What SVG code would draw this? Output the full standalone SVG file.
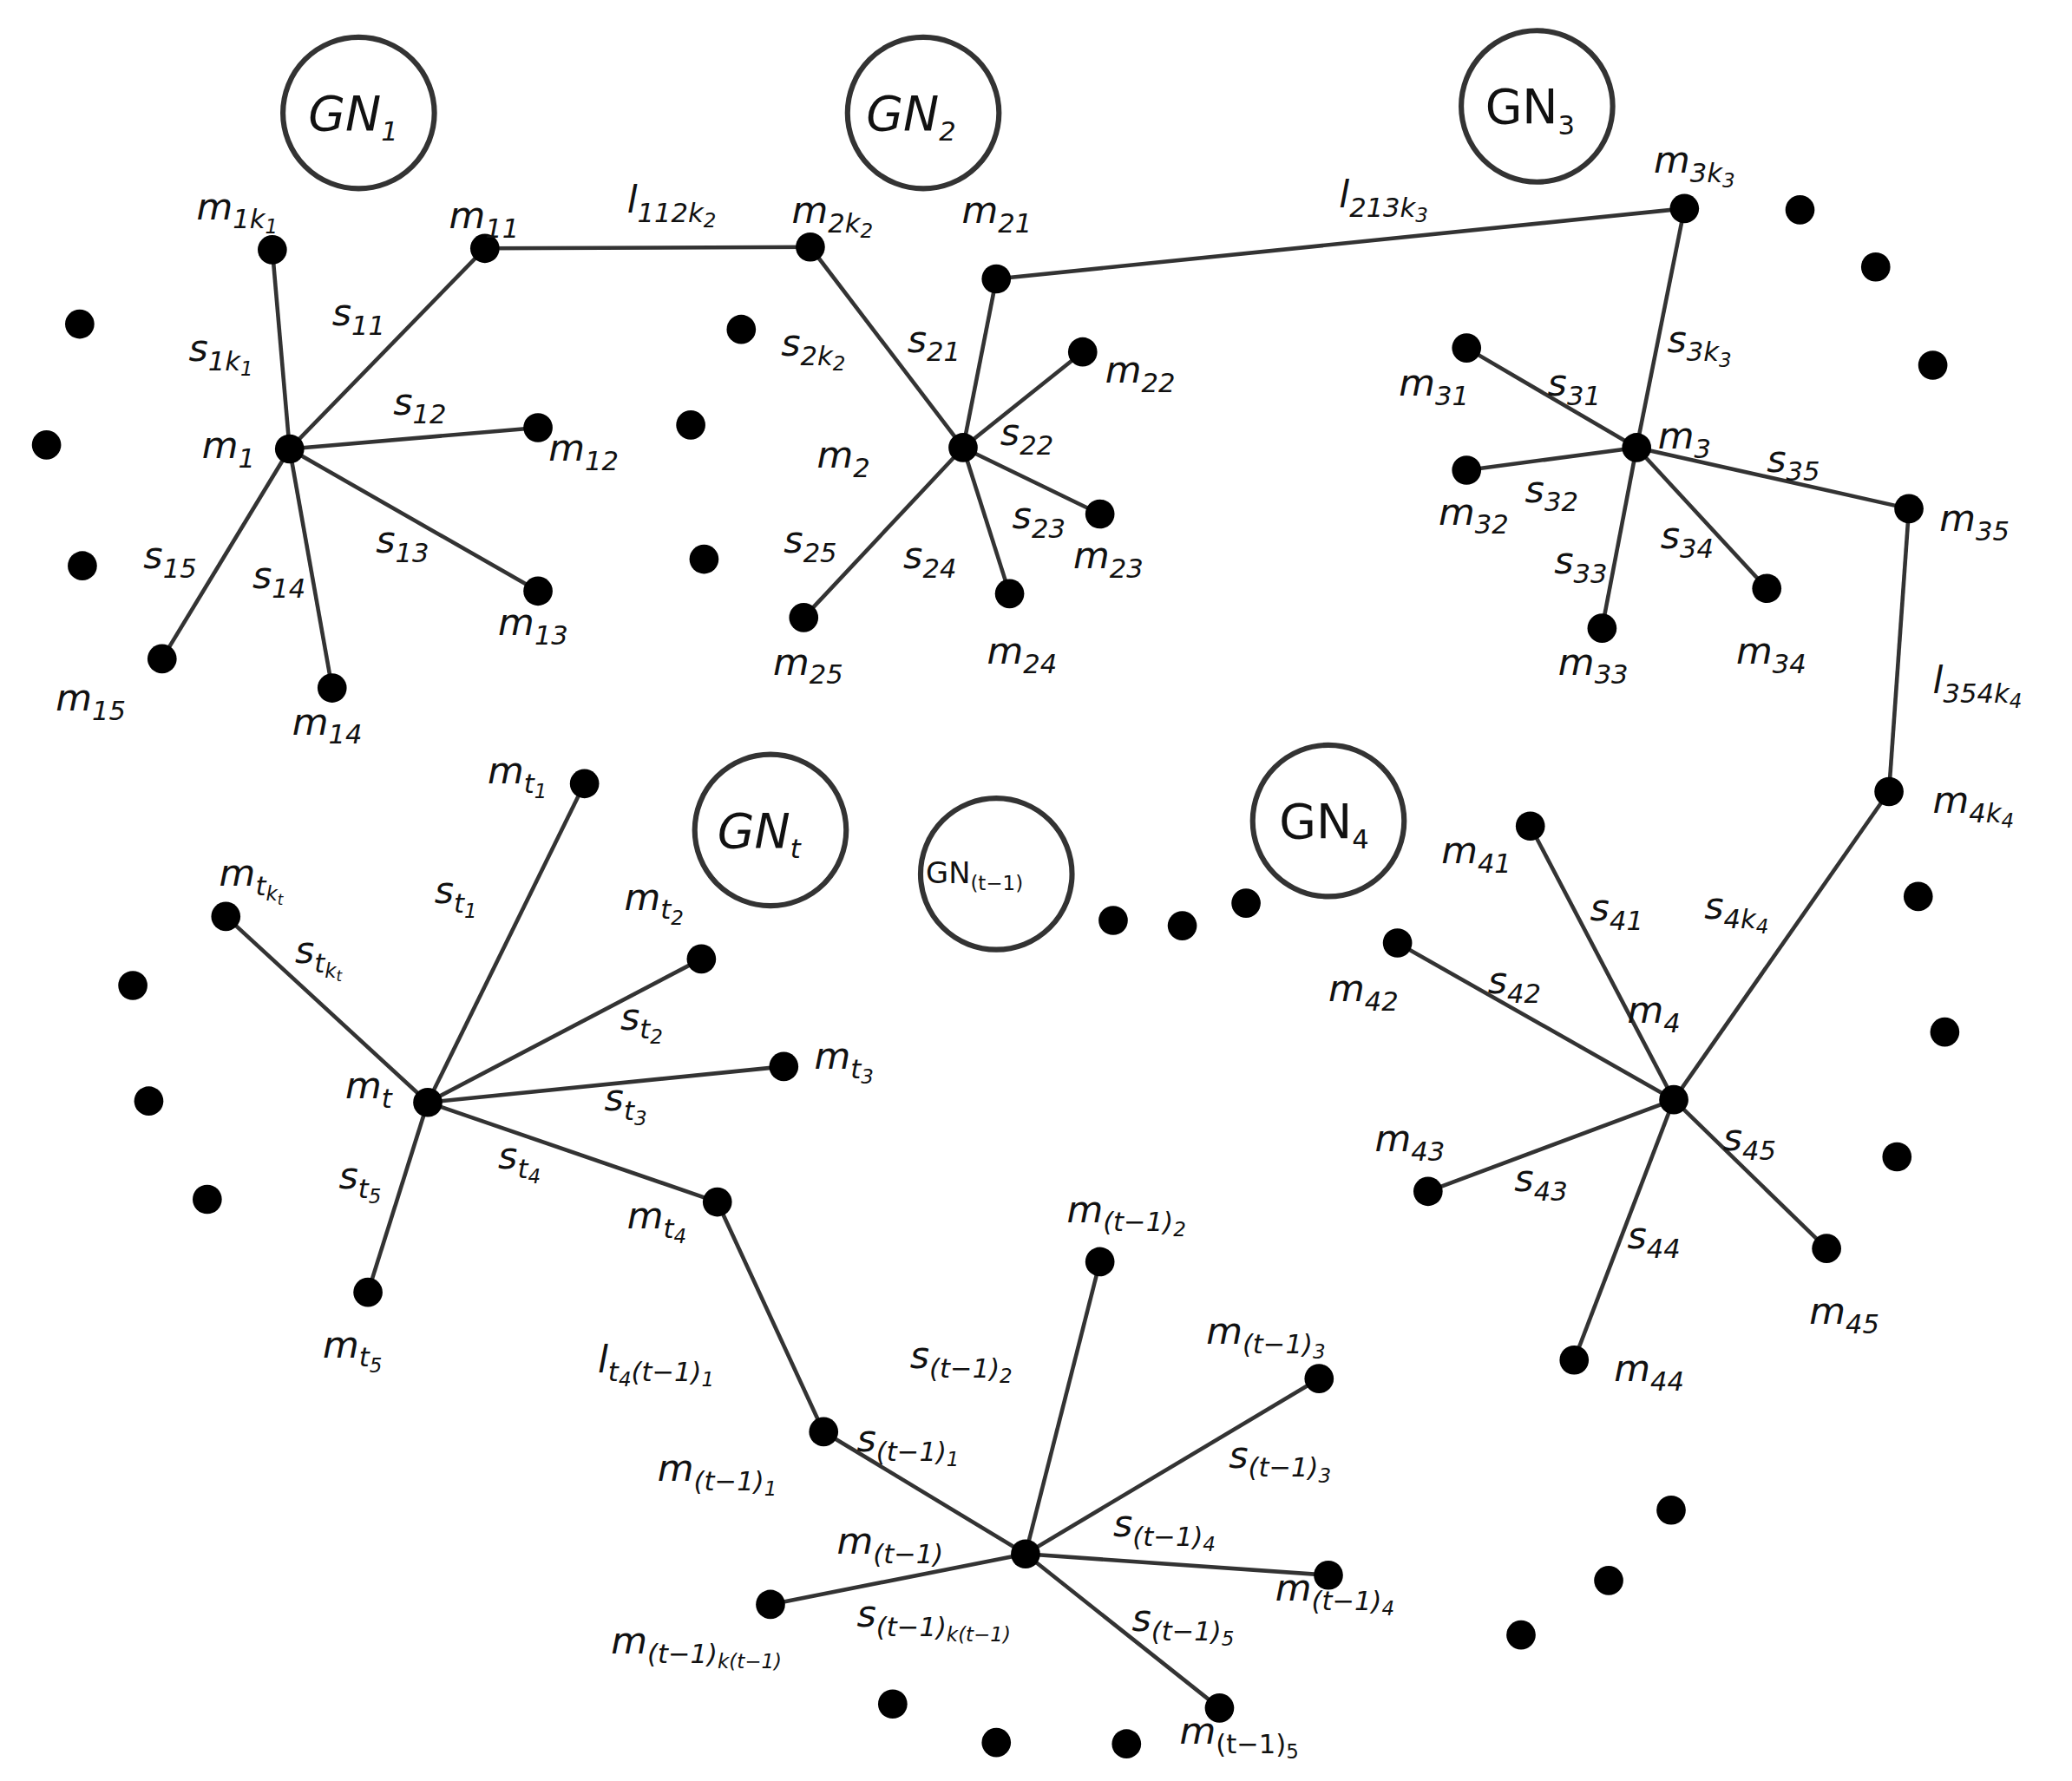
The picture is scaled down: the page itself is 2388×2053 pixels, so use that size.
<svg xmlns="http://www.w3.org/2000/svg" width="2388" height="2053" viewBox="0 0 2388 2053">
<style>
text{font-family:"DejaVu Sans","Liberation Sans",sans-serif;font-style:italic;font-size:28px;fill:#111}
.up{font-style:normal}
.g{font-size:36px}
.sb{font-size:20px}
.ss{font-size:15px}
line{stroke:#333;stroke-width:3}
circle.n{fill:#000}
circle.gn{fill:none;stroke:#333;stroke-width:4}
</style>
<rect width="2388" height="2053" fill="#fff"/>
<g transform="scale(1.531)">
<g id="connectors">
<line x1="365" y1="187" x2="610" y2="186"/><line x1="750" y1="210" x2="1268" y2="157"/>
<line x1="1437" y1="383" x2="1422" y2="596"/><line x1="540" y1="905" x2="620" y2="1078"/>
<line x1="218" y1="338" x2="205" y2="188"/><line x1="218" y1="338" x2="365" y2="187"/><line x1="218" y1="338" x2="405" y2="322"/><line x1="218" y1="338" x2="405" y2="445"/><line x1="218" y1="338" x2="250" y2="518"/><line x1="218" y1="338" x2="122" y2="496"/>
<line x1="725" y1="337" x2="610" y2="186"/><line x1="725" y1="337" x2="750" y2="210"/><line x1="725" y1="337" x2="815" y2="265"/><line x1="725" y1="337" x2="828" y2="387"/><line x1="725" y1="337" x2="760" y2="447"/><line x1="725" y1="337" x2="605" y2="465"/>
<line x1="1232" y1="337" x2="1268" y2="157"/><line x1="1232" y1="337" x2="1104" y2="262"/><line x1="1232" y1="337" x2="1104" y2="354"/><line x1="1232" y1="337" x2="1206" y2="473"/><line x1="1232" y1="337" x2="1330" y2="443"/><line x1="1232" y1="337" x2="1437" y2="383"/>
<line x1="1260" y1="828" x2="1422" y2="596"/><line x1="1260" y1="828" x2="1152" y2="622"/><line x1="1260" y1="828" x2="1052" y2="710"/><line x1="1260" y1="828" x2="1075" y2="897"/><line x1="1260" y1="828" x2="1185" y2="1024"/><line x1="1260" y1="828" x2="1375" y2="940"/>
<line x1="322" y1="830" x2="440" y2="590"/><line x1="322" y1="830" x2="170" y2="690"/><line x1="322" y1="830" x2="528" y2="722"/><line x1="322" y1="830" x2="590" y2="803"/><line x1="322" y1="830" x2="540" y2="905"/><line x1="322" y1="830" x2="277" y2="973"/>
<line x1="772" y1="1170" x2="620" y2="1078"/><line x1="772" y1="1170" x2="828" y2="950"/><line x1="772" y1="1170" x2="993" y2="1038"/><line x1="772" y1="1170" x2="1000" y2="1186"/><line x1="772" y1="1170" x2="918" y2="1286"/><line x1="772" y1="1170" x2="580" y2="1208"/>
</g>
<g id="groups">
<circle class="gn" cx="270" cy="85" r="57"/><text class="g" x="232" y="98">GN<tspan class="sb" dy="8">1</tspan></text>
<circle class="gn" cx="695" cy="85" r="57"/><text class="g" x="652" y="98">GN<tspan class="sb" dy="8">2</tspan></text>
<circle class="gn" cx="1157" cy="80" r="57"/><text class="g up" x="1118" y="93">GN<tspan class="sb" dy="8">3</tspan></text>
<circle class="gn" cx="580" cy="625" r="57"/><text class="g" x="540" y="638">GN<tspan class="sb" dy="8">t</tspan></text>
<circle class="gn" cx="750" cy="658" r="57"/><text class="up" style="font-size:22px" x="697" y="665">GN<tspan class="sb" style="font-size:15px" dy="5">(t−1)</tspan></text>
<circle class="gn" cx="1000" cy="618" r="57"/><text class="g up" x="963" y="631">GN<tspan class="sb" dy="8">4</tspan></text>
</g>
<g id="nodes">
<circle class="n" cx="218" cy="338" r="11"/><circle class="n" cx="205" cy="188" r="11"/><circle class="n" cx="365" cy="187" r="11"/><circle class="n" cx="405" cy="322" r="11"/><circle class="n" cx="405" cy="445" r="11"/><circle class="n" cx="250" cy="518" r="11"/><circle class="n" cx="122" cy="496" r="11"/>
<circle class="n" cx="60" cy="244" r="11"/><circle class="n" cx="35" cy="335" r="11"/><circle class="n" cx="62" cy="426" r="11"/>
<circle class="n" cx="725" cy="337" r="11"/><circle class="n" cx="610" cy="186" r="11"/><circle class="n" cx="750" cy="210" r="11"/><circle class="n" cx="815" cy="265" r="11"/><circle class="n" cx="828" cy="387" r="11"/><circle class="n" cx="760" cy="447" r="11"/><circle class="n" cx="605" cy="465" r="11"/>
<circle class="n" cx="558" cy="248" r="11"/><circle class="n" cx="520" cy="320" r="11"/><circle class="n" cx="530" cy="421" r="11"/>
<circle class="n" cx="1232" cy="337" r="11"/><circle class="n" cx="1268" cy="157" r="11"/><circle class="n" cx="1104" cy="262" r="11"/><circle class="n" cx="1104" cy="354" r="11"/><circle class="n" cx="1206" cy="473" r="11"/><circle class="n" cx="1330" cy="443" r="11"/><circle class="n" cx="1437" cy="383" r="11"/>
<circle class="n" cx="1355" cy="158" r="11"/><circle class="n" cx="1412" cy="201" r="11"/><circle class="n" cx="1455" cy="275" r="11"/>
<circle class="n" cx="1260" cy="828" r="11"/><circle class="n" cx="1422" cy="596" r="11"/><circle class="n" cx="1152" cy="622" r="11"/><circle class="n" cx="1052" cy="710" r="11"/><circle class="n" cx="1075" cy="897" r="11"/><circle class="n" cx="1185" cy="1024" r="11"/><circle class="n" cx="1375" cy="940" r="11"/>
<circle class="n" cx="1444" cy="675" r="11"/><circle class="n" cx="1464" cy="777" r="11"/><circle class="n" cx="1428" cy="871" r="11"/>
<circle class="n" cx="322" cy="830" r="11"/><circle class="n" cx="440" cy="590" r="11"/><circle class="n" cx="170" cy="690" r="11"/><circle class="n" cx="528" cy="722" r="11"/><circle class="n" cx="590" cy="803" r="11"/><circle class="n" cx="540" cy="905" r="11"/><circle class="n" cx="277" cy="973" r="11"/>
<circle class="n" cx="100" cy="742" r="11"/><circle class="n" cx="112" cy="829" r="11"/><circle class="n" cx="156" cy="903" r="11"/>
<circle class="n" cx="772" cy="1170" r="11"/><circle class="n" cx="620" cy="1078" r="11"/><circle class="n" cx="828" cy="950" r="11"/><circle class="n" cx="993" cy="1038" r="11"/><circle class="n" cx="1000" cy="1186" r="11"/><circle class="n" cx="918" cy="1286" r="11"/><circle class="n" cx="580" cy="1208" r="11"/>
<circle class="n" cx="672" cy="1283" r="11"/><circle class="n" cx="750" cy="1312" r="11"/><circle class="n" cx="848" cy="1313" r="11"/><circle class="n" cx="1145" cy="1231" r="11"/><circle class="n" cx="1211" cy="1190" r="11"/><circle class="n" cx="1258" cy="1137" r="11"/>
<circle class="n" cx="838" cy="693" r="11"/><circle class="n" cx="890" cy="697" r="11"/><circle class="n" cx="938" cy="680" r="11"/>
</g>
<g id="labels">
<text x="148" y="165">m<tspan class="sb" dy="7">1k</tspan><tspan class="ss" dy="4">1</tspan></text>
<text x="142" y="272">s<tspan class="sb" dy="7">1k</tspan><tspan class="ss" dy="4">1</tspan></text>
<text x="250" y="245">s<tspan class="sb" dy="7">11</tspan></text>
<text x="338" y="172">m<tspan class="sb" dy="7">11</tspan></text>
<text x="472" y="160">l<tspan class="sb" dy="7">112k</tspan><tspan class="ss" dy="4">2</tspan></text>
<text x="596" y="168">m<tspan class="sb" dy="7">2k</tspan><tspan class="ss" dy="4">2</tspan></text>
<text x="724" y="168">m<tspan class="sb" dy="7">21</tspan></text>
<text x="588" y="268">s<tspan class="sb" dy="7">2k</tspan><tspan class="ss" dy="4">2</tspan></text>
<text x="683" y="265">s<tspan class="sb" dy="7">21</tspan></text>
<text x="832" y="288">m<tspan class="sb" dy="7">22</tspan></text>
<text x="753" y="335">s<tspan class="sb" dy="7">22</tspan></text>
<text x="615" y="352">m<tspan class="sb" dy="7">2</tspan></text>
<text x="762" y="398">s<tspan class="sb" dy="7">23</tspan></text>
<text x="808" y="428">m<tspan class="sb" dy="7">23</tspan></text>
<text x="590" y="416">s<tspan class="sb" dy="7">25</tspan></text>
<text x="680" y="428">s<tspan class="sb" dy="7">24</tspan></text>
<text x="582" y="508">m<tspan class="sb" dy="7">25</tspan></text>
<text x="743" y="500">m<tspan class="sb" dy="7">24</tspan></text>
<text x="152" y="345">m<tspan class="sb" dy="7">1</tspan></text>
<text x="296" y="312">s<tspan class="sb" dy="7">12</tspan></text>
<text x="413" y="347">m<tspan class="sb" dy="7">12</tspan></text>
<text x="283" y="416">s<tspan class="sb" dy="7">13</tspan></text>
<text x="375" y="478">m<tspan class="sb" dy="7">13</tspan></text>
<text x="108" y="428">s<tspan class="sb" dy="7">15</tspan></text>
<text x="190" y="443">s<tspan class="sb" dy="7">14</tspan></text>
<text x="42" y="535">m<tspan class="sb" dy="7">15</tspan></text>
<text x="220" y="553">m<tspan class="sb" dy="7">14</tspan></text>
<text x="1008" y="156">l<tspan class="sb" dy="7">213k</tspan><tspan class="ss" dy="4">3</tspan></text>
<text x="1245" y="130">m<tspan class="sb" dy="7">3k</tspan><tspan class="ss" dy="4">3</tspan></text>
<text x="1255" y="265">s<tspan class="sb" dy="7">3k</tspan><tspan class="ss" dy="4">3</tspan></text>
<text x="1053" y="298">m<tspan class="sb" dy="7">31</tspan></text>
<text x="1165" y="298">s<tspan class="sb" dy="7">31</tspan></text>
<text x="1248" y="338">m<tspan class="sb" dy="7">3</tspan></text>
<text x="1330" y="355">s<tspan class="sb" dy="7">35</tspan></text>
<text x="1460" y="400">m<tspan class="sb" dy="7">35</tspan></text>
<text x="1083" y="395">m<tspan class="sb" dy="7">32</tspan></text>
<text x="1148" y="378">s<tspan class="sb" dy="7">32</tspan></text>
<text x="1170" y="432">s<tspan class="sb" dy="7">33</tspan></text>
<text x="1250" y="413">s<tspan class="sb" dy="7">34</tspan></text>
<text x="1173" y="508">m<tspan class="sb" dy="7">33</tspan></text>
<text x="1307" y="500">m<tspan class="sb" dy="7">34</tspan></text>
<text x="1455" y="522">l<tspan class="sb" dy="7">354k</tspan><tspan class="ss" dy="4">4</tspan></text>
<text x="1455" y="612">m<tspan class="sb" dy="7">4k</tspan><tspan class="ss" dy="4">4</tspan></text>
<text x="1085" y="650">m<tspan class="sb" dy="7">41</tspan></text>
<text x="1197" y="693">s<tspan class="sb" dy="7">41</tspan></text>
<text x="1283" y="692">s<tspan class="sb" dy="7">4k</tspan><tspan class="ss" dy="4">4</tspan></text>
<text x="1000" y="754">m<tspan class="sb" dy="7">42</tspan></text>
<text x="1120" y="748">s<tspan class="sb" dy="7">42</tspan></text>
<text x="1225" y="770">m<tspan class="sb" dy="7">4</tspan></text>
<text x="1297" y="866">s<tspan class="sb" dy="7">45</tspan></text>
<text x="1035" y="867">m<tspan class="sb" dy="7">43</tspan></text>
<text x="1140" y="897">s<tspan class="sb" dy="7">43</tspan></text>
<text x="1225" y="940">s<tspan class="sb" dy="7">44</tspan></text>
<text x="1362" y="997">m<tspan class="sb" dy="7">45</tspan></text>
<text x="1215" y="1040">m<tspan class="sb" dy="7">44</tspan></text>
<text x="367" y="590">m<tspan class="sb" dy="7">t</tspan><tspan class="ss" dy="4">1</tspan></text>
<text x="165" y="667">m<tspan class="sb" dy="7">t</tspan><tspan class="ss" dy="4">k</tspan><tspan class="ss" style="font-size:11px" dy="3">t</tspan></text>
<text x="222" y="725">s<tspan class="sb" dy="7">t</tspan><tspan class="ss" dy="4">k</tspan><tspan class="ss" style="font-size:11px" dy="3">t</tspan></text>
<text x="327" y="680">s<tspan class="sb" dy="7">t</tspan><tspan class="ss" dy="4">1</tspan></text>
<text x="470" y="685">m<tspan class="sb" dy="7">t</tspan><tspan class="ss" dy="4">2</tspan></text>
<text x="467" y="775">s<tspan class="sb" dy="7">t</tspan><tspan class="ss" dy="4">2</tspan></text>
<text x="613" y="805">m<tspan class="sb" dy="7">t</tspan><tspan class="ss" dy="4">3</tspan></text>
<text x="260" y="827">m<tspan class="sb" dy="7">t</tspan></text>
<text x="455" y="836">s<tspan class="sb" dy="7">t</tspan><tspan class="ss" dy="4">3</tspan></text>
<text x="375" y="880">s<tspan class="sb" dy="7">t</tspan><tspan class="ss" dy="4">4</tspan></text>
<text x="255" y="895">s<tspan class="sb" dy="7">t</tspan><tspan class="ss" dy="4">5</tspan></text>
<text x="472" y="925">m<tspan class="sb" dy="7">t</tspan><tspan class="ss" dy="4">4</tspan></text>
<text x="243" y="1022">m<tspan class="sb" dy="7">t</tspan><tspan class="ss" dy="4">5</tspan></text>
<text x="803" y="920">m<tspan class="sb" dy="7">(t−1)</tspan><tspan class="ss" dy="4">2</tspan></text>
<text x="685" y="1030">s<tspan class="sb" dy="7">(t−1)</tspan><tspan class="ss" dy="4">2</tspan></text>
<text x="908" y="1012">m<tspan class="sb" dy="7">(t−1)</tspan><tspan class="ss" dy="4">3</tspan></text>
<text x="450" y="1033">l<tspan class="sb" dy="7">t</tspan><tspan class="ss" dy="4">4</tspan><tspan class="sb" dy="-4">(t−1)</tspan><tspan class="ss" dy="4">1</tspan></text>
<text x="645" y="1093">s<tspan class="sb" dy="7">(t−1)</tspan><tspan class="ss" dy="4">1</tspan></text>
<text x="495" y="1115">m<tspan class="sb" dy="7">(t−1)</tspan><tspan class="ss" dy="4">1</tspan></text>
<text x="925" y="1105">s<tspan class="sb" dy="7">(t−1)</tspan><tspan class="ss" dy="4">3</tspan></text>
<text x="630" y="1170">m<tspan class="sb" dy="7">(t−1)</tspan></text>
<text x="838" y="1157">s<tspan class="sb" dy="7">(t−1)</tspan><tspan class="ss" dy="4">4</tspan></text>
<text x="960" y="1205">m<tspan class="sb" dy="7">(t−1)</tspan><tspan class="ss" dy="4">4</tspan></text>
<text x="645" y="1225">s<tspan class="sb" dy="7">(t−1)</tspan><tspan class="ss" dy="4">k(t−1)</tspan></text>
<text x="852" y="1228">s<tspan class="sb" dy="7">(t−1)</tspan><tspan class="ss" dy="4">5</tspan></text>
<text x="460" y="1245">m<tspan class="sb" dy="7">(t−1)</tspan><tspan class="ss" dy="4">k(t−1)</tspan></text>
<text x="888" y="1313">m<tspan class="sb up" dy="7">(t−1)</tspan><tspan class="ss up" dy="4">5</tspan></text>
</g>
</g>
</svg>
